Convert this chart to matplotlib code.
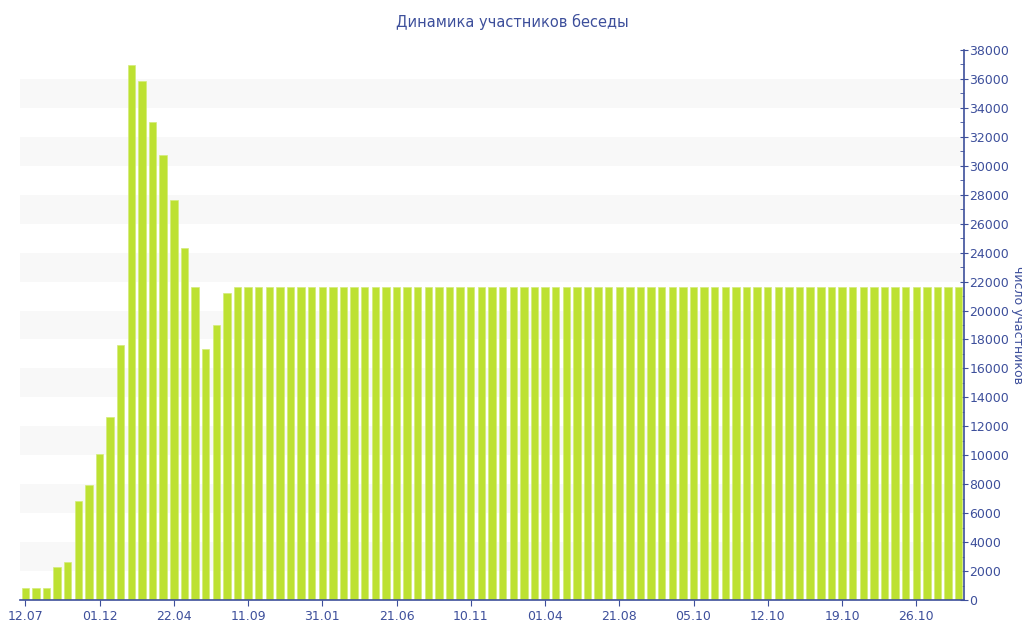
import numpy as np
import matplotlib.pyplot as plt
from matplotlib.ticker import MultipleLocator

# participant counts per period
counts = [800, 800, 800, 2300, 2650, 6860, 7920, 10070, 12620, 17620,
          36970, 35840, 33010, 30730, 27670, 24300, 21630, 17320, 19000, 21200]
counts += [21630] * 69

tick_labels = ["12.07", "01.12", "22.04", "11.09", "31.01", "21.06", "10.11",
               "01.04", "21.08", "05.10", "12.10", "19.10", "26.10"]

blue = "#3d4f9b"
bar_color = "#bde132"

fig = plt.figure(figsize=(10.24, 6.4), dpi=100)
ax = fig.add_axes([20 / 1024, 1 - 600 / 640, 944 / 1024, 550 / 640])

x = np.arange(len(counts))
ax.set_xlim(-0.5, len(counts) - 0.5)
ax.set_ylim(0, 38000)

# alternating background bands
for lo in range(2000, 38000, 4000):
    ax.axhspan(lo, lo + 2000, color="#f8f8f8", lw=0, zorder=0)

ax.bar(x, counts, width=0.7, color=bar_color, edgecolor="#d4ec7a",
       linewidth=0.5, zorder=2)

ax.set_xticks(np.arange(0, len(counts), 7)[:len(tick_labels)])
ax.set_xticklabels(tick_labels)

ax.yaxis.tick_right()
ax.yaxis.set_label_position("right")
ax.yaxis.set_major_locator(MultipleLocator(2000))
ax.yaxis.set_minor_locator(MultipleLocator(1000))

for s in ["top", "left"]:
    ax.spines[s].set_visible(False)
for s in ["bottom", "right"]:
    ax.spines[s].set_color(blue)
    ax.spines[s].set_linewidth(1.2)

ax.tick_params(axis="x", colors=blue, labelsize=9, length=4, direction="out")
ax.tick_params(axis="y", which="major", colors=blue, labelsize=9,
               length=6, direction="inout", pad=1)
ax.tick_params(axis="y", which="minor", colors=blue, length=3, direction="in")

ax.set_ylabel("число участников", color=blue, fontsize=9, rotation=270,
              va="center")
ax.yaxis.set_label_coords(1.057, 0.5)
fig.text(0.5, 1 - 22 / 640, "Динамика участников беседы", color=blue,
         fontsize=10.5, ha="center", va="center")

fig.savefig("out.png", dpi=100)
